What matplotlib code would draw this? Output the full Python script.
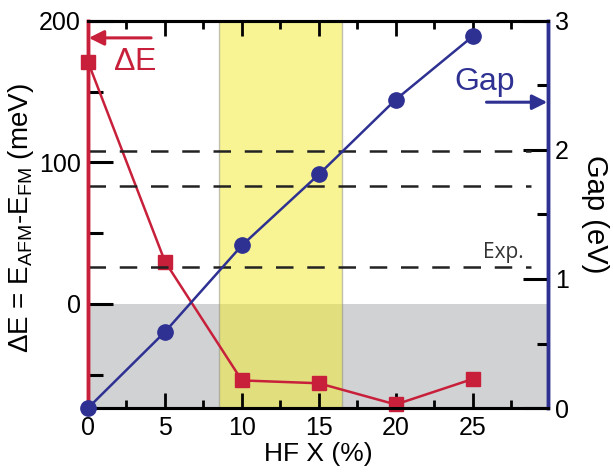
import matplotlib
matplotlib.use("Agg")
import matplotlib.pyplot as plt

plt.rcParams['font.family'] = ['Liberation Sans', 'DejaVu Sans']
plt.rcParams['mathtext.fontset'] = 'custom'
plt.rcParams['mathtext.rm'] = 'Liberation Sans'

# Data
hf_x = [0, 5, 10, 15, 20, 25]
delta_e = [171, 30, -54, -56, -71, -53]          # meV, left axis
gap = [0.0, 0.59, 1.26, 1.81, 2.39, 2.88]         # eV, right axis
exp_gaps = [1.99, 1.72, 1.09]                     # experimental gaps (dashed)
band = [8.5, 16.5]                                # highlighted HF range

RED = '#c8203a'
BLUE = '#2e3192'

fig = plt.figure(figsize=(6.13, 4.75), dpi=100)
ax1 = fig.add_axes([0.1436, 0.141, 0.894 - 0.1436, 0.956 - 0.141])
ax2 = ax1.twinx()

ax1.set_xlim(0, 29.9)
ax1.set_ylim(-73.5, 200)
ax2.set_ylim(0, 3)

# shading
ax1.axhspan(-73.5, 0, color='#d1d2d4', zorder=0, lw=0)
ax1.axvspan(band[0], band[1], facecolor='#f2ea2a', alpha=0.5, edgecolor='#888888',
            lw=1.0, zorder=1)

# dashed experimental lines
for g in exp_gaps:
    ax2.plot([0, 28.8], [g, g], color='#222222', lw=1.8, dashes=(7, 5.5), zorder=2)
ax2.text(28.3, 1.12, 'Exp.', fontsize=15, color='#333333', ha='right', va='bottom',
         family=['Open Sans', 'DejaVu Sans'])

# series
ax1.plot(hf_x, delta_e, color=RED, lw=1.8, marker='s', ms=10, zorder=3, clip_on=False)
ax2.plot(hf_x, gap, color=BLUE, lw=1.8, marker='o', ms=11, zorder=3, clip_on=False)

# spines
for a in (ax1, ax2):
    a.spines['top'].set_linewidth(2.2)
    a.spines['bottom'].set_linewidth(2.2)
    a.spines['left'].set_color(RED)
    a.spines['left'].set_linewidth(2.5)
    a.spines['right'].set_color(BLUE)
    a.spines['right'].set_linewidth(2.5)

# ticks
ax1.set_xticks([0, 5, 10, 15, 20, 25])
ax1.set_xticks([2.5, 7.5, 12.5, 17.5, 22.5, 27.5], minor=True)
ax1.set_yticks([0, 100, 200])
ax1.set_yticks([-50, 50, 150], minor=True)
ax2.set_yticks([0, 1, 2, 3])
ax2.set_yticks([0.5, 1.5, 2.5], minor=True)

ax1.tick_params(axis='x', which='major', direction='in', length=11, width=2,
                top=True, labelsize=18, pad=6)
ax1.tick_params(axis='x', which='minor', direction='in', length=6, width=2, top=True)
ax1.tick_params(axis='y', which='major', direction='in', length=18, width=2.2,
                labelsize=18, pad=5)
ax1.tick_params(axis='y', which='minor', direction='in', length=11, width=2.2)
ax2.tick_params(axis='y', which='major', direction='in', length=18, width=2.2,
                labelsize=18, pad=5)
ax2.tick_params(axis='y', which='minor', direction='in', length=8, width=2.2)

ax1.set_xlabel('HF X (%)', fontsize=19, va='center')
ax1.xaxis.set_label_coords(0.5, -0.12)
ax1.set_ylabel(r'$\Delta$E = E$_{\mathrm{AFM}}$-E$_{\mathrm{FM}}$ (meV)', fontsize=20,
               va='center')
ax1.yaxis.set_label_coords(-0.146, 0.49)
ax2.set_ylabel('Gap (eV)', fontsize=21, rotation=270, va='center')
ax2.yaxis.set_label_coords(1.102, 0.5)

# annotations
ax1.annotate('', xy=(0.05, 188), xytext=(4.1, 188),
             arrowprops=dict(arrowstyle='-|>,head_length=0.9,head_width=0.45',
                             color=RED, lw=2.2, shrinkA=0, shrinkB=0), zorder=5)
ax1.text(1.6, 171, r'$\Delta$E', color=RED, fontsize=23, ha='left', va='center')
ax2.annotate('', xy=(29.85, 2.37), xytext=(25.9, 2.37),
             arrowprops=dict(arrowstyle='-|>,head_length=0.9,head_width=0.45',
                             color=BLUE, lw=2.2, shrinkA=0, shrinkB=0), zorder=5)
ax2.text(25.8, 2.53, 'Gap', color=BLUE, fontsize=23, ha='center', va='center')

ax1.set_zorder(0)
ax2.set_zorder(1)
ax2.patch.set_visible(False)

fig.savefig('out.png', dpi=100)
